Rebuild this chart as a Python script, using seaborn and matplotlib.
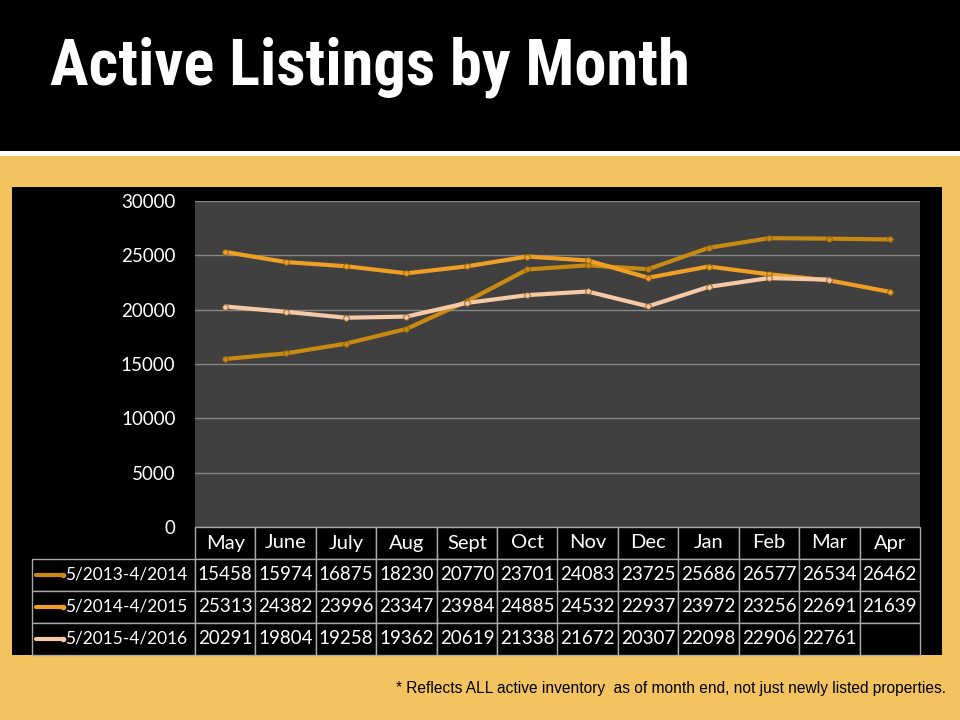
import numpy as np
import pandas as pd
import matplotlib
matplotlib.use("Agg")
import matplotlib.pyplot as plt
import seaborn as sns
from matplotlib import font_manager
from matplotlib.patches import Rectangle
from matplotlib.lines import Line2D

# ---------------- data ----------------
months = ["May", "June", "July", "Aug", "Sept", "Oct", "Nov", "Dec", "Jan", "Feb", "Mar", "Apr"]
series_names = ["5/2013-4/2014", "5/2014-4/2015", "5/2015-4/2016"]
s2013 = [15458, 15974, 16875, 18230, 20770, 23701, 24083, 23725, 25686, 26577, 26534, 26462]
s2014 = [25313, 24382, 23996, 23347, 23984, 24885, 24532, 22937, 23972, 23256, 22691, 21639]
s2015 = [20291, 19804, 19258, 19362, 20619, 21338, 21672, 20307, 22098, 22906, 22761, None]
yticks = [0, 5000, 10000, 15000, 20000, 25000, 30000]
title = "Active Listings by Month"
footnote = "* Reflects ALL active inventory  as of month end, not just newly listed properties."
colors = ["#C98A12", "#EFA024", "#F5C9A6"]

series_values = [s2013, s2014, s2015]
rows = []
for name, vals in zip(series_names, series_values):
    for i, v in enumerate(vals):
        rows.append({"idx": i, "month": months[i], "series": name,
                     "value": np.nan if v is None else v})
df = pd.DataFrame(rows)

# ---------------- style ----------------
sns.set_theme(style="dark")
plt.rcParams['font.family'] = ['Lato', 'DejaVu Sans']


def pick_font(cands):
    for c in cands:
        try:
            font_manager.findfont(font_manager.FontProperties(family=c, weight="bold"),
                                  fallback_to_default=False)
            return c
        except Exception:
            continue
    return "DejaVu Sans"


title_font = pick_font(["Liberation Sans Narrow", "DejaVu Sans Condensed",
                        "Roboto Condensed", "Open Sans Condensed", "Roboto"])

W, H = 960, 720
fig = plt.figure(figsize=(9.6, 7.2), dpi=100)
fig.patch.set_facecolor("#F3C35F")


def fx(px):
    return px / W


def fy(py):
    return 1 - py / H


# header band, white rule, chart black box
fig.patches.append(Rectangle((0, fy(151)), 1, 151 / H, transform=fig.transFigure,
                             facecolor="black", edgecolor="none", zorder=-5))
fig.patches.append(Rectangle((0, fy(156)), 1, 5 / H, transform=fig.transFigure,
                             facecolor="white", edgecolor="none", zorder=-5))
fig.patches.append(Rectangle((fx(12), fy(655)), fx(930), (655 - 187) / H,
                             transform=fig.transFigure, facecolor="black",
                             edgecolor="none", zorder=-5))

ttl = fig.text(fx(50), fy(85), title, ha="left", va="baseline",
               family=[title_font, "DejaVu Sans"], weight="bold",
               size=44, color="white")
# fit the title width to the reference (~640 px)
renderer = fig.canvas.get_renderer()
tw = ttl.get_window_extent(renderer).width
if tw > 0:
    ttl.set_fontsize(min(48, 44 * 640 / tw))

# ---------------- plot ----------------
ax = fig.add_axes([fx(195), fy(527), fx(920 - 195), (527 - 201) / H])
sns.lineplot(data=df, x="idx", y="value", hue="series", hue_order=series_names,
             palette=colors, linewidth=3, marker="o", markersize=4,
             markeredgewidth=0.6, markeredgecolor="#8a5a10",
             legend=False, ax=ax)
ax.set_facecolor("#404040")
ax.set_xlim(-0.5, 11.5)
ax.set_ylim(0, 30000)
ax.set_yticks(yticks)
ax.set_yticklabels([str(v) for v in yticks])
ax.set_xticks([])
ax.yaxis.grid(True, color="#868686", linewidth=1)
ax.xaxis.grid(False)
for s in ax.spines.values():
    s.set_visible(False)
ax.tick_params(axis="y", length=0, pad=14, labelsize=13.5, labelcolor="white")
ax.set_xlabel("")
ax.set_ylabel("")

# ---------------- data table ----------------
tax = fig.add_axes([fx(32), fy(655), fx(920 - 32), 128 / H])
tax.axis("off")
cell_text = [[("" if v is None else str(v)) for v in vals] for vals in series_values]
lab_w = (195 - 32) / (920 - 32)
col_w = (1 - lab_w) / 12
tbl = tax.table(cellText=cell_text, rowLabels=series_names, colLabels=months,
                colWidths=[col_w] * 12, cellLoc="center", rowLoc="left",
                bbox=[lab_w, 0, 1 - lab_w, 1])
tbl._autoColumns = []
tbl.auto_set_font_size(False)
tbl.set_fontsize(13.5)
for (r, c), cell in tbl.get_celld().items():
    cell.set_facecolor("black")
    cell.set_edgecolor("#A8A8A8")
    cell.set_linewidth(1)
    cell.get_text().set_color("white")
    if r == 0:
        cell.get_text().set_fontsize(14.5)
    if c == -1:
        cell.set_width(lab_w)
        cell.PAD = 33 / 163
        cell.get_text().set_fontsize(12.4)

# legend keys in the row label cells
for k, col in enumerate(colors):
    yc = 1 - (k + 1.5) / 4
    tax.add_line(Line2D([4 / 888, 31 / 888], [yc, yc], transform=tax.transAxes,
                        color=col, linewidth=3, marker="o", markersize=3,
                        markevery=[1], zorder=5))

fig.text(fx(946), fy(688), footnote, ha="right", va="center",
         family=["Liberation Sans", "DejaVu Sans"], fontsize=11.2, color="black")

fig.savefig("out.png", dpi=100, facecolor=fig.get_facecolor())
